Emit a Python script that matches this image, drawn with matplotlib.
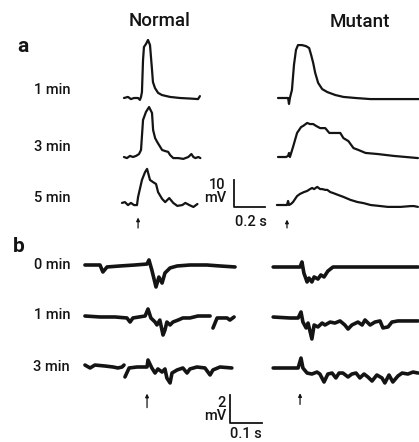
"""Evoked potential traces, normal vs mutant, panels a and b."""

import matplotlib
matplotlib.use("Agg")
import matplotlib.pyplot as plt
import numpy as np

W, H = 419, 442
INK = "#141414"
plt.rcParams["font.family"] = ["Roboto", "Liberation Sans", "DejaVu Sans"]
plt.rcParams["font.weight"] = "medium"

# ---- panel a: time in ms from stimulus, voltage in mV from baseline ----
a_normal_1_t = [-97, -71, -52, -32, -6, 6, 13, 19, 26, 32, 45, 58, 71, 84, 90, 103, 123, 148, 200, 264, 329, 381, 393]
a_normal_1_v = [0, 0.4, -0.4, 0, 0, -0.7, 0.4, 2.2, 14.1, 18.9, 20.0, 21.5, 19.6, 10.4, 5.9, 3.7, 1.9, 1.1, 0.4, 0, -0.2, -0.4, 0.7]

a_normal_3_t = [-97, -78, -58, -39, -19, 0, 13, 26, 45, 65, 84, 91, 104, 117, 149, 169, 188, 201, 221, 253, 286, 318, 338, 351, 364, 383, 396]
a_normal_3_v = [0, -0.4, 0.4, 0, 0.4, 1.1, 2.6, 13.7, 16.7, 18.5, 16.3, 10.0, 7.0, 5.6, 2.6, 2.2, 1.9, 0.7, -0.4, -0.4, -0.7, 0, 1.1, 0, -0.4, 0, -0.4]

a_normal_5_t = [-110, -91, -71, -52, -32, -13, -6, 19, 39, 52, 71, 91, 110, 123, 149, 169, 195, 221, 247, 279, 299, 325, 351, 377]
a_normal_5_v = [0.4, 0.7, -0.4, 0.4, -0.4, -0.4, 2.6, 8.9, 11.8, 13.0, 8.9, 8.1, 7.4, 4.4, 1.9, 0.7, 2.2, 0.4, -0.7, -0.4, 0.4, -0.4, -1.1, 0]

a_mutant_1_t = [-71, -19, -6, 0, 6, 19, 32, 45, 58, 84, 110, 130, 143, 156, 169, 188, 214, 247, 299, 351, 429, 526, 656, 845]
a_mutant_1_v = [0, 0, 0, -2.2, 0, 3.0, 12.2, 17.8, 19.6, 19.6, 19.2, 18.5, 15.9, 13.0, 9.3, 5.6, 3.3, 2.2, 1.1, 0.4, 0, -0.4, -0.4, -0.4]

a_mutant_3_t = [-71, -19, -6, 0, 6, 26, 52, 78, 91, 117, 136, 156, 175, 201, 234, 260, 286, 312, 331, 351, 383, 416, 448, 494, 572, 676, 754, 832]
a_mutant_3_v = [0, 0, 0.4, 1.5, 0, 3.7, 8.9, 11.1, 11.5, 12.6, 12.2, 12.2, 11.5, 10.7, 10.7, 8.9, 8.9, 8.9, 8.9, 7.0, 5.9, 3.3, 2.6, 1.5, 1.1, 0.4, 0, -0.4]

a_mutant_5_t = [-78, -32, -13, -6, 0, 13, 26, 52, 71, 97, 117, 136, 149, 162, 182, 201, 214, 234, 247, 266, 286, 318, 351, 396, 442, 481, 526, 591, 637, 721, 786, 806, 832]
a_mutant_5_v = [0, 0, 0, 1.5, 0, 0.4, 1.1, 3.3, 4.1, 4.8, 5.2, 5.9, 6.3, 5.9, 6.7, 5.9, 5.9, 5.6, 5.6, 4.8, 4.4, 3.7, 3.0, 1.9, 1.1, 0.7, 0, -0.4, -0.7, -0.7, -0.4, -0.4, -0.7]

# ---- panel b: time in ms from stimulus, voltage in mV from baseline ----
b_normal_0_t = [-197, -150, -141, -128, -88, -41, -3, 3, 12, 25, 34, 44, 53, 69, 91, 131, 184, 225, 272]
b_normal_0_v = [0, 0, -0.5, -0.14, -0.07, 0, 0.07, 0.36, -0.36, -1.57, -0.86, -1.29, -0.57, -0.21, -0.07, 0, 0, -0.07, -0.14]

b_normal_1_t = [-197, -150, -103, -66, -56, -47, -9, 0, 9, 22, 28, 37, 47, 53, 59, 69, 78, 94, 109, 131, 156, 194,
                np.nan, 203, 216, 247, 256, 269]
b_normal_1_v = [0, -0.07, -0.07, -0.14, -0.43, -0.14, 0, 0.5, -0.14, -0.43, -0.64, -0.29, -1.36, -1.0, -0.43, -0.64, -0.43, -0.29, -0.14, -0.14, 0, 0,
                np.nan, -0.86, -0.14, -0.14, -0.29, -0.07]

b_normal_3_t = [-197, -181, -166, -134, -109, -94, -81, -75,
                np.nan, -72, -59, -34, -3, 0, 12, 22, 31, 44, 53, 59, 69, 75, 91, 109, 122, 131, 153, 178, 194, 203, 225, 262]
b_normal_3_v = [0.14, -0.07, 0.14, 0.07, 0, -0.07, 0, 0.14,
                np.nan, -0.71, -0.07, 0, 0, 0.5, -0.07, -0.43, -0.14, -0.36, -0.14, -0.79, -1.14, -0.43, -0.21, -0.07, -0.43, -0.14, 0, -0.07, -0.57, -0.21, 0, -0.07]

b_mutant_0_t = [-87, -34, -3, 3, 9, 19, 25, 34, 41, 53, 62, 72, 84, 100, 200, 366]
b_mutant_0_v = [0, 0, 0, 0.36, -0.43, -1.07, -0.79, -1.07, -0.71, -0.86, -0.57, -0.71, -0.29, 0, 0, 0]

b_mutant_1_t = [-87, -34, -9, 0, 6, 16, 22, 34, 41, 53, 66, 75, 91, 106, 122, 137, 147, 159, 178, 191, 200, 216, 231, 247, 256, 272, 284, 303, 366]
b_mutant_1_v = [0.07, 0, 0, 0.43, -0.29, -0.71, -0.36, -1.5, -0.5, -0.64, -0.36, -0.5, -0.29, -0.36, -0.21, -0.5, -0.79, -0.5, -0.29, -0.5, -0.14, -0.5, -0.29, -0.21, -0.71, -0.64, -0.29, -0.21, -0.21]

b_mutant_3_t = [-87, -9, 0, 6, 19, 34, 50, 59, 72, 84, 97, 109, 119, 131, 147, 159, 172, 184, 197, 209, 222, 237, 253, 262, 275, 287, 303, 316, 334, 350, 366]
b_mutant_3_v = [0, 0, 0.71, 0, -0.36, -0.43, -0.29, -0.43, -1.0, -0.43, -0.36, -0.71, -0.36, -0.36, -0.64, -0.43, -0.36, -0.71, -0.43, -0.64, -0.93, -0.5, -0.71, -1.07, -0.5, -1.0, -0.57, -0.36, -0.43, -0.29, -0.36]

row_labels_a = ["1 min", "3 min", "5 min"]
row_labels_b = ["0 min", "1 min", "3 min"]
column_titles = ["Normal", "Mutant"]

# drawing scale (pixels per ms / per mV) and layout in pixels
A_PX_MS, A_PX_MV = 31 / 200, 27 / 10
B_PX_MS, B_PX_MV = 32 / 100, 28 / 2

fig = plt.figure(figsize=(W / 100, H / 100), dpi=100)


def place_axes(x0, y0, t_lim, v_lim, px_ms, px_mv):
    """Axes whose data point (0, 0) falls on pixel (x0, y0) from the top left."""
    left = x0 + t_lim[0] * px_ms
    bottom = H - y0 + v_lim[0] * px_mv
    width = (t_lim[1] - t_lim[0]) * px_ms
    height = (v_lim[1] - v_lim[0]) * px_mv
    ax = fig.add_axes([left / W, bottom / H, width / W, height / H])
    ax.set_xlim(t_lim)
    ax.set_ylim(v_lim)
    ax.axis("off")
    return ax


def draw_trace(t, v, x0, y0, px_ms, px_mv, lw):
    t = np.asarray(t, dtype=float)
    v = np.asarray(v, dtype=float)
    t_lim = (np.nanmin(t) - 10, np.nanmax(t) + 10)
    v_lim = (np.nanmin(v) - 1, np.nanmax(v) + 1)
    ax = place_axes(x0, y0, t_lim, v_lim, px_ms, px_mv)
    ax.plot(t, v, color=INK, lw=lw, solid_joinstyle="round", solid_capstyle="round")
    return ax


def stim_arrow(ax, t, v_bottom, v_top):
    ax.annotate("", xy=(t, v_top), xytext=(t, v_bottom), annotation_clip=False,
                arrowprops=dict(arrowstyle="-|>", lw=0.9, color=INK, mutation_scale=5,
                                shrinkA=0, shrinkB=0))


# panel a
a_normal = [(a_normal_1_t, a_normal_1_v, 98), (a_normal_3_t, a_normal_3_v, 157), (a_normal_5_t, a_normal_5_v, 204)]
a_mutant = [(a_mutant_1_t, a_mutant_1_v, 98), (a_mutant_3_t, a_mutant_3_v, 157), (a_mutant_5_t, a_mutant_5_v, 205)]
for t, v, yb in a_normal:
    ax_an = draw_trace(t, v, 139, yb, A_PX_MS, A_PX_MV, 1.6)
for t, v, yb in a_mutant:
    ax_am = draw_trace(t, v, 289, yb, A_PX_MS, A_PX_MV, 1.6)
stim_arrow(ax_an, -6, -8.9, -5.0)
stim_arrow(ax_am, -13, -8.5, -5.4)

# panel b
b_normal = [(b_normal_0_t, b_normal_0_v, 265), (b_normal_1_t, b_normal_1_v, 316), (b_normal_3_t, b_normal_3_v, 367)]
b_mutant = [(b_mutant_0_t, b_mutant_0_v, 267), (b_mutant_1_t, b_mutant_1_v, 318), (b_mutant_3_t, b_mutant_3_v, 368)]
for t, v, yb in b_normal:
    ax_bn = draw_trace(t, v, 148, yb, B_PX_MS, B_PX_MV, 2.6)
for t, v, yb in b_mutant:
    ax_bm = draw_trace(t, v, 301, yb, B_PX_MS, B_PX_MV, 2.6)
stim_arrow(ax_bn, -3, -2.9, -1.9)
stim_arrow(ax_bm, -3, -2.6, -1.8)

# scale bars
sa = place_axes(234, 207, (-5, 205), (-1, 11), A_PX_MS, A_PX_MV)
sa.plot([0, 0, 200], [10, 0, 0], color=INK, lw=1.3)
sa.text(-55, 8.1, "10", ha="right", va="center", fontsize=10.5, color=INK)
sa.text(-50, 3.2, "mV", ha="right", va="center", fontsize=10.5, color=INK)
sa.text(110, -5.6, "0.2 s", ha="center", va="center", fontsize=10.5, color=INK)

sb = place_axes(230, 423, (-5, 105), (-0.2, 2.2), B_PX_MS, B_PX_MV)
sb.plot([0, 0, 100], [2, 0, 0], color=INK, lw=1.3)
sb.text(-12, 1.45, "2", ha="right", va="center", fontsize=10.5, color=INK)
sb.text(-10, 0.5, "mV", ha="right", va="center", fontsize=10.5, color=INK)
sb.text(50, -0.8, "0.1 s", ha="center", va="center", fontsize=10.5, color=INK)

# text labels (figure pixel positions)
def label(x, y, s, **kw):
    fig.text(x / W, 1 - y / H, s, color=INK, **kw)


label(160, 21, column_titles[0], ha="center", va="center", fontsize=13.5)
label(360, 22, column_titles[1], ha="center", va="center", fontsize=13.5)
label(23, 47, "a", ha="center", va="center", fontsize=15, fontweight="bold")
label(19, 246, "b", ha="center", va="center", fontsize=15, fontweight="bold")
for s, y in zip(row_labels_a, [90, 147, 198]):
    label(71, y, s, ha="right", va="center", fontsize=10.5)
for s, y in zip(row_labels_b, [265, 315, 367]):
    label(70, y, s, ha="right", va="center", fontsize=10.5)

fig.savefig("out.png", dpi=100)
